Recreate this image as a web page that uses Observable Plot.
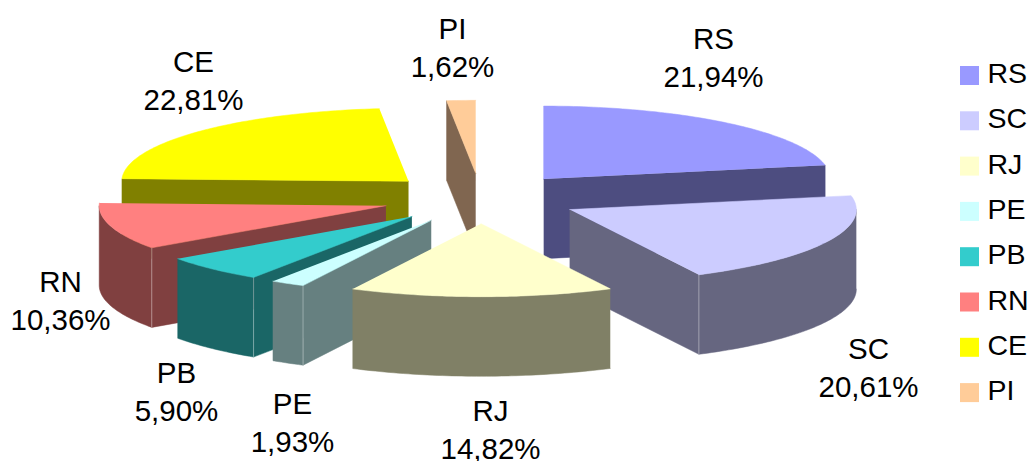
<!DOCTYPE html>
<html>
<head>
<meta charset="utf-8">
<script src="https://cdn.jsdelivr.net/npm/d3@7"></script>
<script src="https://cdn.jsdelivr.net/npm/@observablehq/plot@0.6"></script>
<style>html,body{margin:0;padding:0;background:#fff}</style>
</head>
<body>
<div id="chart"></div>
<script>
// Share of each state, clockwise from twelve o'clock
const states = ["RS", "SC", "RJ", "PE", "PB", "RN", "CE", "PI"];
const shares = [21.94, 20.61, 14.82, 1.93, 5.90, 10.36, 22.81, 1.62];
const topColors = ["#9999ff", "#ccccff", "#ffffcc", "#ccffff", "#33cccc", "#ff8080", "#ffff00", "#ffcc99"];
const wallColors = ["#4d4d80", "#666680", "#808066", "#668080", "#1a6666", "#804040", "#808000", "#806650"];

// Pie geometry in unit-circle coordinates
const explode = 0.345;
const depth = 1.09;

// Unit circle to page: the ellipse is what gives the pie its tilt
const width = 1034, height = 461;
const xRange = [193.5, 767], yRange = [271, 125];
const toUnitX = px => -1 + 2 * (px - xRange[0]) / (xRange[1] - xRange[0]);
const toUnitY = py => -1 + 2 * (py - yRange[0]) / (yRange[1] - yRange[0]);

// Label centres and legend layout, in page pixels
const labelX = [713, 868, 490, 292, 176, 60, 193, 452];
const labelY = [55, 365, 427, 420, 389, 298, 78, 45];
const legendTop = 66, legendStep = 45.3, swatch = 19, swatchX = 960, legendTextX = 987, legendTextLift = 2;

const rad = d => d * Math.PI / 180;
const total = d3.sum(shares);
let cumulative = 0;
const slices = states.map((state, i) => {
  const a0 = cumulative / total * 360;
  cumulative += shares[i];
  const a1 = cumulative / total * 360;
  const mid = rad((a0 + a1) / 2);
  return {state, value: shares[i], a0, a1, top: topColors[i], wall: wallColors[i],
    ax: explode * Math.sin(mid), ay: explode * Math.cos(mid)};
});

const rim = (s, deg, drop = 0) => ({
  x: s.ax + Math.sin(rad(deg)),
  y: s.ay + Math.cos(rad(deg)) - drop
});
const apex = (s, drop = 0) => ({x: s.ax, y: s.ay - drop});
const arc = (s, from, to, drop = 0) => {
  const n = Math.max(2, Math.ceil(Math.abs(to - from)));
  return d3.range(n + 1).map(k => rim(s, from + (to - from) * k / n, drop));
};

// Rear slices first, so nearer ones overlap them
const ordered = [...slices].sort((p, q) => q.ay - p.ay);

const faceMark = (points, color) =>
  Plot.line(points, {x: "x", y: "y", fill: color, stroke: color, strokeWidth: 0.5});

const marks = [];
for (const s of ordered) {
  // Cut faces that turn toward the viewer
  if (Math.sin(rad(s.a0)) < -1e-6) {
    marks.push(faceMark([apex(s), rim(s, s.a0), rim(s, s.a0, depth), apex(s, depth)], s.wall));
  }
  if (Math.sin(rad(s.a1)) > 1e-6) {
    marks.push(faceMark([apex(s), rim(s, s.a1), rim(s, s.a1, depth), apex(s, depth)], s.wall));
  }
  // Outer wall: only the front half of the rim
  const from = Math.max(s.a0, 90), to = Math.min(s.a1, 270);
  if (from < to) {
    marks.push(faceMark([...arc(s, from, to), ...arc(s, to, from, depth)], s.wall));
  }
  // Pale seam where a cut face meets the outer wall
  const seams = [];
  if (s.a0 > 180 && Math.cos(rad(s.a0)) < 0) seams.push(s.a0);
  if (s.a1 < 180 && Math.cos(rad(s.a1)) < 0) seams.push(s.a1);
  for (const deg of seams) {
    marks.push(Plot.line([rim(s, deg), rim(s, deg, depth)],
      {x: "x", y: "y", stroke: "#ffffff", strokeOpacity: 0.35, strokeWidth: 1}));
  }
  // Top surface
  marks.push(faceMark([apex(s), ...arc(s, s.a0, s.a1)], s.top));
}

const decimal = v => v.toFixed(2).replace(".", ",") + "%";

marks.push(Plot.text(slices, {
  x: (d, i) => toUnitX(labelX[i]),
  y: (d, i) => toUnitY(labelY[i]),
  text: d => `${d.state}\n${decimal(d.value)}`,
  lineHeight: 1.32,
  fontSize: 29.5,
  fill: "#000"
}));

// Legend swatches and names
marks.push(Plot.rect(slices, {
  x1: toUnitX(swatchX),
  x2: toUnitX(swatchX + swatch),
  y1: (d, i) => toUnitY(legendTop + i * legendStep),
  y2: (d, i) => toUnitY(legendTop + i * legendStep + swatch),
  fill: d => d.top
}));
marks.push(Plot.text(slices, {
  x: toUnitX(legendTextX),
  y: (d, i) => toUnitY(legendTop + i * legendStep + swatch / 2 - legendTextLift),
  text: "state",
  textAnchor: "start",
  fontSize: 28.5,
  fill: "#000"
}));

const chart = Plot.plot({
  width, height,
  margin: 0,
  style: {fontFamily: "'Liberation Sans', Arial, sans-serif", background: "#fff"},
  x: {domain: [-1, 1], range: xRange, axis: null},
  y: {domain: [-1, 1], range: yRange, axis: null},
  marks
});
document.getElementById("chart").append(chart);
</script>
</body>
</html>
